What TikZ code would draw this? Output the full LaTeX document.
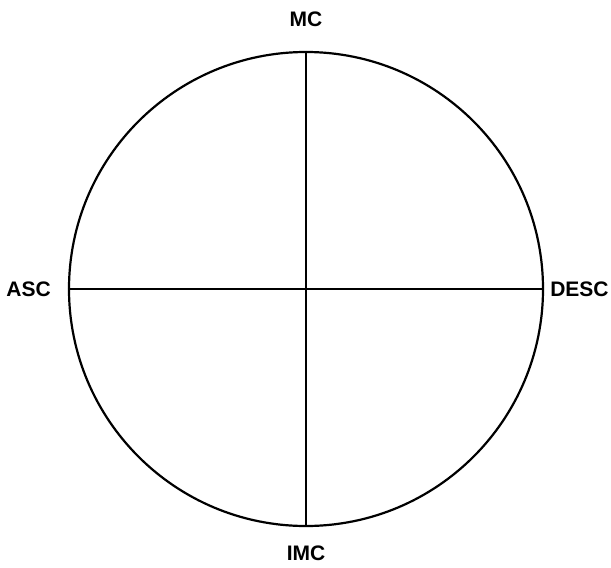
\documentclass[tikz,border=0pt]{standalone}
\usepackage{fontspec}
\setmainfont{Liberation Sans}
\usepackage{tikz}
\usetikzlibrary{positioning}

\begin{document}
\begin{tikzpicture}[
    x=1pt, y=-1pt,
    wheel/.style={circle, draw, line width=2.2pt, minimum size=474pt, inner sep=0pt},
    axis/.style={line width=2.2pt},
    point/.style={font=\fontsize{21}{25}\selectfont\bfseries, inner sep=0pt},
]
    \useasboundingbox (0,0) rectangle (611,568);

    % Chart circle
    \node[wheel] (chart) at (306,289) {};

    % Angle labels
    \node[point, above=24pt of chart.north] (mc) {MC};
    \node[point, below=19pt of chart.south] (imc) {IMC};
    \node[point, left=17pt of chart.west] (asc) {ASC};
    \node[point, right=6pt of chart.east] (desc) {DESC};

    % Axes
    \draw[axis] (chart.north) -- (chart.south);
    \draw[axis] (chart.west) -- (chart.east);
\end{tikzpicture}
\end{document}
